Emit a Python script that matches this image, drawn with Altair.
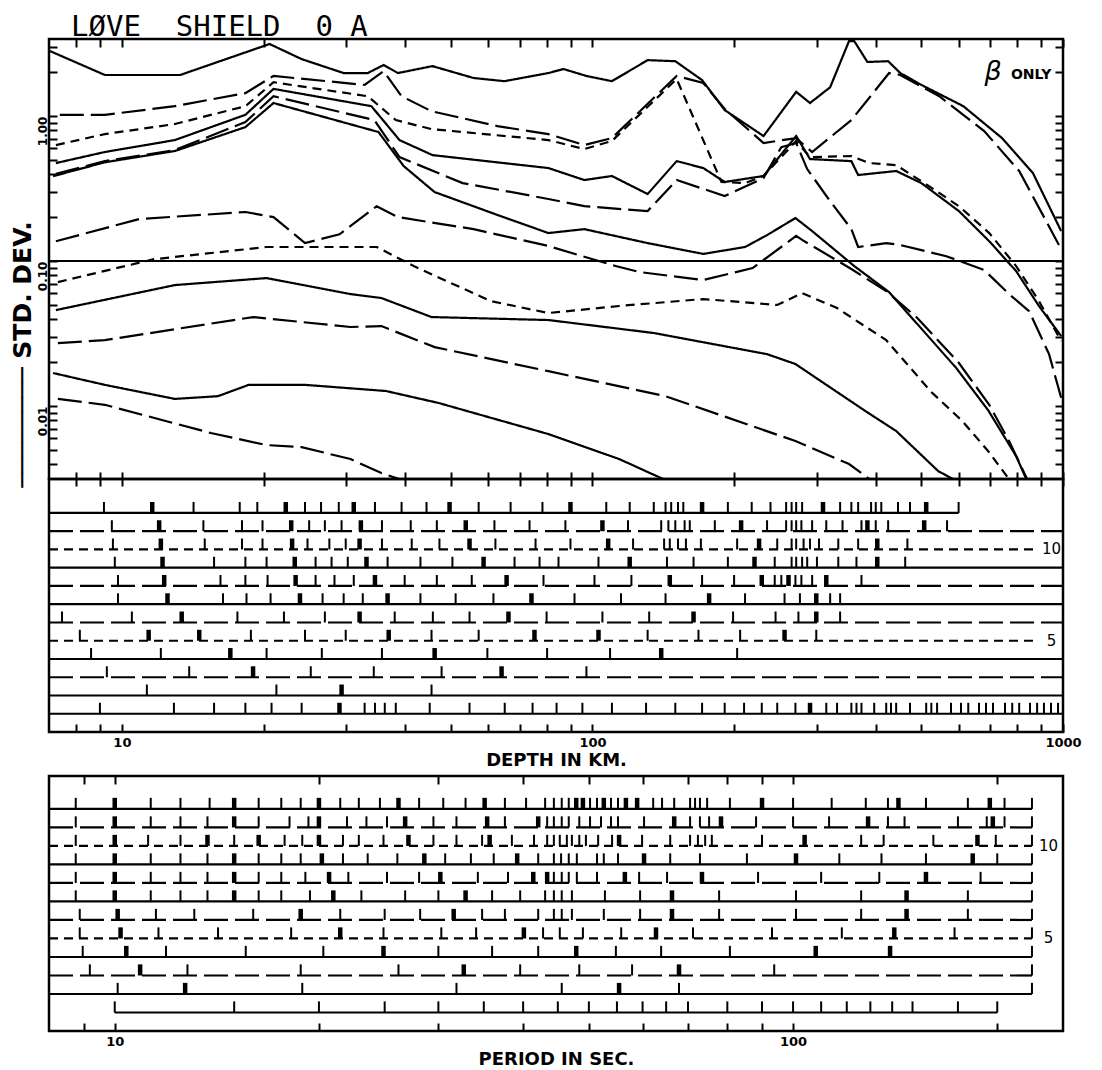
import altair as alt
import pandas as pd

# ---------------------------------------------------------------- data
# Top panel: standard deviation versus depth (km), one curve per model set
A_depth = [7.03, 9.2, 13.3, 20.6, 24.1, 29.6, 33.3, 36.0, 38.6, 45.7, 55.9, 65.0, 80.6, 86.8, 97.1, 110, 131, 150, 171, 191, 231, 271, 290, 320, 351, 360, 384, 425, 451, 500, 614, 742, 863, 991]
A_sd = [2.81, 1.92, 1.92, 3.14, 2.47, 1.98, 1.98, 2.25, 1.98, 2.21, 1.83, 1.74, 1.98, 2.11, 1.89, 1.74, 2.43, 2.39, 1.77, 1.10, 0.728, 1.47, 1.23, 1.58, 3.29, 3.29, 2.36, 2.39, 1.98, 1.64, 1.17, 0.705, 0.405, 0.161]

B_depth = [7.38, 9.2, 12.96, 18.3, 21.0, 32.8, 36.0, 39.3, 45.5, 62.8, 80.6, 96.1, 110, 151, 172, 191, 231, 271, 293, 355, 427, 451, 546, 680, 807, 991]
B_sd = [1.02, 1.02, 1.17, 1.44, 1.89, 1.64, 2.04, 1.37, 1.08, 0.853, 0.751, 0.631, 0.705, 1.89, 1.69, 1.12, 0.652, 0.705, 0.565, 0.938, 1.98, 1.92, 1.37, 0.788, 0.418, 0.121]

C_depth = [7.24, 9.2, 12.96, 18.3, 21.0, 33.3, 38.2, 45.5, 80.6, 96.1, 110, 151, 188, 211, 231, 271, 290, 355, 387, 442, 519, 601, 697, 795, 889, 991]
C_sd = [0.631, 0.751, 0.881, 1.17, 1.71, 1.37, 0.938, 0.813, 0.683, 0.592, 0.673, 1.80, 0.351, 0.345, 0.386, 0.673, 0.521, 0.530, 0.474, 0.459, 0.329, 0.239, 0.156, 0.0924, 0.0530, 0.0281]

D_depth = [7.24, 9.2, 12.96, 18.3, 21.0, 33.9, 38.9, 45.7, 80.6, 96.1, 110, 131, 151, 172, 191, 231, 271, 290, 355, 367, 442, 500, 601, 697, 795, 889, 991]
D_sd = [0.474, 0.565, 0.683, 1.02, 1.54, 1.17, 0.683, 0.538, 0.438, 0.362, 0.386, 0.290, 0.489, 0.438, 0.351, 0.386, 0.728, 0.505, 0.489, 0.392, 0.418, 0.345, 0.221, 0.137, 0.0853, 0.0490, 0.0304]

E2_depth = [7.24, 9.2, 12.96, 18.3, 21.0, 34.4, 38.9, 53.0, 80.6, 96.1, 131, 151, 191, 231, 252, 271, 286, 320, 355, 367, 421, 451, 565, 680, 768, 847, 934, 991]
E2_sd = [0.40, 0.489, 0.583, 0.909, 1.37, 0.938, 0.521, 0.345, 0.268, 0.239, 0.221, 0.362, 0.281, 0.374, 0.611, 0.652, 0.431, 0.259, 0.166, 0.125, 0.133, 0.129, 0.108, 0.0867, 0.0592, 0.0452, 0.0228, 0.0114]

E1_depth = [7.14, 9.2, 12.96, 18.3, 21.0, 35.1, 39.7, 46.2, 62.8, 80.6, 96.1, 131, 172, 211, 235, 270, 293, 360, 427, 593, 693, 795, 867]
E1_sd = [0.385, 0.48, 0.574, 0.839, 1.23, 0.776, 0.452, 0.299, 0.208, 0.156, 0.166, 0.133, 0.112, 0.125, 0.151, 0.198, 0.161, 0.0924, 0.0611, 0.0183, 0.00938, 0.00452, 0.00239]

F_depth = [7.24, 10.9, 18.3, 21.0, 24.5, 29.0, 34.8, 38.6, 55.9, 80.6, 112, 126, 172, 219, 271, 279, 355, 421, 488, 601, 697, 768, 847, 889]
F_sd = [0.137, 0.195, 0.218, 0.201, 0.133, 0.153, 0.239, 0.201, 0.166, 0.127, 0.0924, 0.0840, 0.0740, 0.0895, 0.149, 0.140, 0.0881, 0.0621, 0.0411, 0.0198, 0.0102, 0.00574, 0.00294, 0.00221]

G_depth = [7.31, 11.7, 20.3, 34.8, 41.7, 60.7, 80.6, 114, 172, 247, 279, 331, 421, 525, 611, 693, 779]
G_sd = [0.0716, 0.103, 0.125, 0.125, 0.0924, 0.0530, 0.0438, 0.0490, 0.0547, 0.0498, 0.0601, 0.0474, 0.0285, 0.0125, 0.00788, 0.00490, 0.00294]

H_depth = [7.24, 12.96, 20.3, 30.6, 35.6, 45.5, 80.6, 135, 235, 270, 299, 380, 442, 543, 611]
H_sd = [0.0459, 0.0683, 0.0763, 0.0592, 0.0556, 0.0411, 0.0392, 0.0319, 0.0228, 0.0195, 0.0156, 0.00925, 0.00673, 0.00356, 0.0029]

I_depth = [7.31, 9.2, 19.0, 30.6, 35.6, 46.2, 80.6, 143, 270, 351, 401]
I_sd = [0.0272, 0.0285, 0.0411, 0.0351, 0.0356, 0.0255, 0.0174, 0.0117, 0.00574, 0.00398, 0.0029]

J_depth = [7.14, 9.2, 12.96, 16.0, 18.6, 24.5, 36.4, 47.1, 80.6, 114, 161]
J_sd = [0.0169, 0.0140, 0.0112, 0.0117, 0.0140, 0.0140, 0.0127, 0.0105, 0.00641, 0.00431, 0.00259]

K_depth = [7.31, 9.2, 15.45, 20.3, 24.1, 30.6, 35.6, 47.1]
K_sd = [0.0112, 0.0102, 0.00652, 0.00538, 0.00521, 0.00431, 0.00345, 0.00255]

CURVES = [
    ("A", A_depth, A_sd, "solid"), ("B", B_depth, B_sd, "long"), ("C", C_depth, C_sd, "short"),
    ("D", D_depth, D_sd, "solid"), ("E2", E2_depth, E2_sd, "long"), ("E1", E1_depth, E1_sd, "solid"),
    ("F", F_depth, F_sd, "long"), ("G", G_depth, G_sd, "short"), ("H", H_depth, H_sd, "solid"),
    ("I", I_depth, I_sd, "long"), ("J", J_depth, J_sd, "solid"), ("K", K_depth, K_sd, "long"),
]

REF_SD = 0.1

# axis tick values
depth_ticks = [8, 9, 10, 20, 30, 40, 50, 60, 70, 80, 90, 100, 200, 300, 400, 500, 600, 700, 800, 900, 1000]
depth_labels = [10, 100, 1000]
period_ticks = [9, 10, 20, 30, 40, 50, 60, 70, 80, 90, 100, 200]
period_labels = [10, 100]
sd_ticks = [0.004, 0.005, 0.006, 0.007, 0.008, 0.009,
            0.01, 0.02, 0.03, 0.04, 0.05, 0.06, 0.07, 0.08, 0.09,
            0.1, 0.2, 0.3, 0.4, 0.5, 0.6, 0.7, 0.8, 0.9, 1, 2, 3]

# Middle panel: tick positions (depth, km) on each of 12 rows
rows_order = [12, 11, 10, 9, 8, 7, 6, 5, 4, 3, 2, 1]
mid_style = ["solid", "long", "short", "solid", "long", "solid", "long", "short", "solid", "long", "solid", "solid"]
mid_start = [7] * 12
mid_end = [600, 1000, 880, 1000, 1000, 1000, 1000, 880, 1000, 1000, 1000, 1000]

mid_ticks = {
    12: [9.16, 11.6, 14.2, 17.8, 19.4, 22.3, 24.5, 26.5, 28.9, 31.1, 34.5, 39.3, 44.4, 49.7, 57.3, 67.0, 78.3, 89.8, 107, 120, 135, 143, 147, 152, 156, 171, 194, 218, 239, 258, 265, 271, 279, 309, 336, 355, 367, 391, 400, 411, 446, 473, 512, 600],
    11: [9.52, 12.0, 14.9, 18.0, 19.9, 22.9, 25.0, 27.0, 29.3, 32.2, 35.7, 41.1, 46.7, 53.8, 61.9, 73.5, 87.6, 105, 119, 140, 145, 150, 157, 161, 182, 207, 235, 258, 265, 271, 278, 293, 314, 340, 373, 384, 400, 425, 507, 567],
    10: [9.57, 12.1, 15.0, 18.0, 19.9, 23.0, 24.8, 27.6, 29.9, 32.0, 35.7, 41.3, 47.3, 54.8, 62.2, 75.7, 89.8, 108, 122, 142, 146, 152, 158, 170, 203, 226, 247, 265, 271, 281, 290, 303, 333, 367, 403, 467],
    9: [9.66, 12.2, 15.7, 18.3, 20.3, 23.3, 25.8, 27.9, 30.2, 33.1, 36.7, 43.1, 50.4, 58.7, 68.3, 77.2, 84.7, 103, 120, 144, 164, 194, 221, 244, 265, 271, 279, 286, 300, 333, 364, 403, 462],
    8: [9.81, 12.3, 16.2, 18.3, 20.4, 23.4, 25.8, 28.3, 31.1, 34.5, 39.9, 46.7, 55.4, 65.7, 78.7, 101, 121, 146, 171, 200, 229, 244, 252, 261, 270, 278, 293, 314, 373],
    7: [9.81, 12.5, 16.4, 18.4, 20.7, 23.9, 26.7, 29.6, 32.5, 36.7, 43.1, 51.2, 61.6, 74.2, 91.6, 115, 143, 177, 211, 256, 276, 299, 320, 336],
    6: [7.46, 10.5, 13.4, 17.6, 22.1, 27.0, 32.0, 38.0, 45.8, 54.8, 66.3, 79.9, 105, 132, 164, 199, 245, 274, 299, 336],
    5: [8.14, 11.4, 14.6, 18.8, 24.5, 29.9, 36.9, 45.5, 57.3, 75.3, 103, 131, 168, 206, 256, 299],
    4: [8.6, 12.1, 17.0, 20.3, 26.6, 35.7, 46.2, 59.8, 80.1, 109, 140, 203],
    3: [9.29, 13.9, 19.0, 25.2, 34.3, 47.8, 64.1, 97.1],
    2: [11.3, 21.3, 29.3, 45.5],
    1: [8.98, 12.9, 15.7, 18.3, 20.8, 24.1, 29.0, 32.8, 34.5, 36.2, 38.2, 45.1, 54.8, 65.1, 74.6, 83.9, 95.2, 110, 130, 150, 171, 191, 210, 229, 247, 270, 290, 314, 331, 355, 364, 373, 397, 421, 431, 442, 473, 512, 525, 540, 578, 607, 629, 663, 686, 710, 753, 780, 807, 851, 881, 911, 943, 976],
}
mid_bold = {
    12: [11.6, 22.3, 31.1, 49.7, 89.8, 171, 309, 512],
    11: [12.0, 22.9, 32.2, 53.8, 105, 207, 384, 507],
    10: [12.1, 23.0, 32.0, 54.8, 108, 226, 403],
    9: [12.2, 23.3, 33.1, 58.7, 120, 221, 403],
    8: [12.3, 23.4, 34.5, 65.7, 146, 229, 261, 314],
    7: [12.5, 23.9, 36.7, 74.2, 177, 299],
    6: [13.4, 32.0, 66.3, 164, 299],
    5: [11.4, 14.6, 36.9, 75.3, 103, 256],
    4: [17.0, 46.2, 140],
    3: [19.0, 64.1],
    2: [29.3],
    1: [29.0, 290],
}

# Bottom panel: tick positions (period, s) on each of 12 rows
bot_style = ["solid", "long", "short", "solid", "long", "solid", "long", "short", "solid", "long", "solid", "solid"]
bot_start = [8] * 11 + [10]
bot_end = [225] * 11 + [200]

bot_ticks = {
    12: [8.76, 10, 11.3, 12.5, 13.8, 15.0, 16.3, 17.6, 18.8, 20, 21.5, 22.9, 24.6, 26.2, 28.1, 30.5, 32.9, 35.1, 37.6, 40.4, 43.1, 44.4, 45.6, 46.7, 47.9, 49.0, 50.2, 51.4, 52.6, 53.9, 55.2, 56.7, 58.9, 62.2, 64.1, 66.8, 70.5, 71.7, 72.9, 74.7, 80.7, 90.0, 100, 114, 128, 138, 143, 157, 181, 195, 205, 225],
    11: [8.76, 10, 11.3, 12.5, 13.7, 15.0, 16.3, 18.1, 19.3, 20, 22.0, 23.5, 25.2, 26.8, 29.5, 31.9, 35.4, 37.6, 42.1, 43.4, 44.4, 45.6, 46.7, 48.4, 50.2, 52.1, 53.9, 55.2, 60.3, 66.8, 70.5, 72.9, 75.2, 78.3, 88.2, 100, 113, 129, 138, 146, 175, 193, 197, 205, 225],
    10: [8.76, 10, 11.2, 12.5, 13.7, 15.0, 16.3, 17.8, 18.9, 20, 21.7, 22.9, 24.9, 27.1, 29.5, 31.9, 34.8, 35.7, 38.5, 41.5, 43.4, 44.4, 45.3, 46.4, 47.2, 48.4, 49.5, 51.6, 54.1, 55.4, 59.9, 65.9, 70.5, 72.4, 74.2, 75.9, 90.0, 104, 126, 136, 161, 187, 199, 225],
    9: [8.76, 10, 11.3, 12.5, 13.7, 15.0, 16.3, 17.6, 18.8, 20.2, 21.7, 23.6, 26.1, 28.6, 30.7, 33.5, 36.2, 39.2, 42.1, 44.4, 45.5, 46.7, 48.0, 51.4, 52.6, 55.2, 60.3, 65.9, 72.9, 85.5, 101, 117, 135, 157, 184, 200, 225],
    8: [8.76, 10, 11.3, 12.5, 13.7, 15.0, 16.3, 17.6, 19.1, 20.7, 22.1, 25.2, 28.1, 30.2, 34.3, 38.0, 41.4, 43.4, 44.4, 45.6, 46.7, 48.0, 51.4, 56.5, 59.3, 65.2, 73.4, 88.8, 110, 134, 157, 189, 225],
    7: [8.76, 10, 11.3, 12.5, 13.7, 15.0, 16.3, 17.6, 19.4, 21.0, 23.1, 26.8, 30.0, 32.9, 36.0, 39.6, 43.1, 44.4, 45.6, 47.2, 52.8, 59.5, 66.3, 77.8, 101, 126, 147, 181, 225],
    6: [8.88, 10.1, 11.5, 13.1, 16.0, 18.8, 21.5, 25.0, 28.2, 31.6, 34.8, 37.6, 42.1, 44.4, 45.6, 47.2, 52.6, 59.5, 66.3, 77.8, 101, 126, 147, 181, 225],
    5: [8.88, 10.2, 11.6, 14.2, 18.2, 21.5, 24.9, 30.3, 34.1, 40.1, 42.8, 45.3, 49.0, 55.8, 62.8, 71.2, 93.1, 118, 141, 173, 225],
    4: [8.97, 10.4, 11.9, 15.6, 20.3, 24.9, 30.0, 36.0, 42.1, 47.9, 54.8, 63.9, 80.7, 108, 139, 225],
    3: [9.19, 10.9, 12.8, 18.8, 26.2, 32.7, 39.6, 48.4, 57.9, 67.9, 93.8, 225],
    2: [10.1, 12.7, 18.9, 31.9, 45.6, 55.4, 67.9, 225],
    1: [10, 15, 20, 25, 30, 35, 40, 45, 50, 55, 60, 65, 70, 80, 90, 100, 110, 120, 130, 140, 150, 175, 200],
}
bot_bold = {
    12: [10, 15.0, 20, 26.2, 35.1, 47.9, 49.0, 52.6, 56.7, 58.9, 90.0, 143, 195],
    11: [10, 15.0, 20, 26.8, 35.4, 42.1, 66.8, 78.3, 129, 197],
    10: [10, 13.7, 16.3, 20, 27.1, 35.7, 55.4, 104, 187],
    9: [10, 15.0, 20.2, 28.6, 39.2, 60.3, 101, 184],
    8: [10, 15.0, 20.7, 30.2, 41.4, 43.4, 56.5, 73.4, 157],
    7: [10, 15.0, 21.0, 32.9, 66.3, 147],
    6: [10.1, 18.8, 31.6, 66.3, 147],
    5: [10.2, 21.5, 40.1, 62.8, 141],
    4: [10.4, 24.9, 47.9, 108, 139],
    3: [10.9, 32.7, 67.9],
    2: [12.7, 55.4],
    1: [],
}

row_labels = [10, 5]

# ---------------------------------------------------------------- frames
curve_rows = []
for name, ds, ss, style in CURVES:
    for i, (d, s) in enumerate(zip(ds, ss)):
        curve_rows.append(dict(curve=name, depth=d, sd=s, style=style, seq=i))
curves_df = pd.DataFrame(curve_rows)


def rows_frame(starts, ends, styles):
    return pd.DataFrame({"row": rows_order, "start": starts, "end": ends, "style": styles})


def ticks_frame(ticks, bold):
    out = []
    for r in rows_order:
        for v in ticks[r]:
            out.append(dict(row=r, pos=v, weight="bold" if v in bold[r] else "thin"))
    return pd.DataFrame(out)


mid_rows_df = rows_frame(mid_start, mid_end, mid_style)
mid_ticks_df = ticks_frame(mid_ticks, mid_bold)
bot_rows_df = rows_frame(bot_start, bot_end, bot_style)
bot_ticks_df = ticks_frame(bot_ticks, bot_bold)

# ---------------------------------------------------------------- styling
W = 1014
H_TOP, H_MID, H_GAP, H_BOT = 440, 253, 44, 255
FONT = "DejaVu Sans"
NB = "\u00a0"

depth_scale = alt.Scale(type="log", domain=[7, 1000], nice=False)
period_scale = alt.Scale(type="log", domain=[8, 250], nice=False)
sd_scale = alt.Scale(type="log", domain=[0.00314, 3.4], nice=False, clamp=False)
mid_row_scale = alt.Scale(domain=[0, 13.86], nice=False, zero=False)
bot_row_scale = alt.Scale(domain=[0, 13.78], nice=False, zero=False)

curve_dash = alt.Scale(domain=["solid", "long", "short"], range=[[1, 0], [24, 7], [9, 6]])
row_dash = alt.Scale(domain=["solid", "long", "short"], range=[[1, 0], [42, 9], [9, 6]])
tick_w = alt.Scale(domain=["thin", "bold"], range=[2, 4.5])

TICK = dict(tickColor="black", tickWidth=2, domain=False, grid=False)


def lab_expr(vals):
    return "indexof([" + ",".join(str(v) for v in vals) + "], datum.value) >= 0 ? '' + datum.value : ''"


SD_EXPR = ("abs(datum.value-1)<1e-6 ? '1.00' : abs(datum.value-0.1)<1e-7 ? '0.10' : "
           "abs(datum.value-0.01)<1e-8 ? '0.01' : ''")

# ---------------------------------------------------------------- top panel
curves = alt.Chart(curves_df).mark_line(color="black", strokeWidth=2.2, clip=True).encode(
    x=alt.X("depth:Q", scale=depth_scale,
            axis=alt.Axis(orient="bottom", values=depth_ticks, labels=False, tickSize=14,
                          offset=-7, title=None, **TICK)),
    y=alt.Y("sd:Q", scale=sd_scale,
            axis=alt.Axis(orient="left", values=sd_ticks, labelExpr=SD_EXPR, labelAngle=270,
                          labelAlign="right", labelBaseline="middle", labelFont=FONT,
                          labelFontWeight="bold", labelFontSize=12, labelColor="black",
                          labelPadding=7, labelOverlap=False, tickSize=8, offset=-8,
                          title="─" * 8 + NB + "STD." + NB + "DEV.", titleFont=FONT,
                          titleFontWeight="bold", titleFontSize=25, titleColor="black",
                          titlePadding=1, titleY=315, **TICK)),
    detail="curve:N",
    order="seq:Q",
    strokeDash=alt.StrokeDash("style:N", scale=curve_dash, legend=None),
)

beta = alt.Chart(pd.DataFrame({"depth": [710], "sd": [2.0], "txt": ["β"]})).mark_text(
    font=FONT, fontSize=27, fontStyle="italic", align="center", baseline="middle", color="black"
).encode(
    x=alt.X("depth:Q", scale=depth_scale,
            axis=alt.Axis(orient="top", values=depth_ticks, labels=False, tickSize=8, offset=-8,
                          title=None, **TICK)),
    y=alt.Y("sd:Q", scale=sd_scale,
            axis=alt.Axis(orient="right", values=sd_ticks, labels=False, tickSize=8, offset=-8,
                          title=None, **TICK)),
    text="txt:N",
)

only = alt.Chart(pd.DataFrame({"depth": [775], "sd": [1.92], "txt": ["ONLY"]})).mark_text(
    font=FONT, fontSize=14, fontWeight="bold", align="left", baseline="middle", color="black"
).encode(
    x=alt.X("depth:Q", scale=depth_scale, axis=None),
    y=alt.Y("sd:Q", scale=sd_scale, axis=None),
    text="txt:N",
)

ref_line = alt.Chart(pd.DataFrame({"sd": [REF_SD]})).mark_rule(color="black", strokeWidth=2).encode(
    y=alt.Y("sd:Q", scale=sd_scale, axis=None)
)

TITLE = "LØVE" + NB + NB + "SHIELD" + NB + NB + "0" + NB + "A"
top = alt.layer(curves, beta, only, ref_line).resolve_axis(
    x="independent", y="independent"
).properties(
    width=W, height=H_TOP,
    title=alt.TitleParams(TITLE, anchor="start", frame="group", dx=22, offset=-4,
                          font="DejaVu Sans Mono", fontSize=29,
                          fontWeight="normal", color="black"),
)


# ---------------------------------------------------------------- row panels
def row_panel(rows_df, ticks_df, xscale, rscale, xticks, xlabels, xtitle, label_pos, height, with_top):
    lines = alt.Chart(rows_df).mark_rule(color="black", strokeWidth=2.2).encode(
        x=alt.X("start:Q", scale=xscale,
                axis=alt.Axis(orient="bottom", values=xticks, labelExpr=lab_expr(xlabels),
                              labelFont=FONT, labelFontWeight="bold", labelFontSize=13,
                              labelColor="black", labelPadding=4, labelFlush=False,
                              labelOverlap=False, tickSize=8, offset=-8, title=xtitle,
                              titleFont=FONT, titleFontWeight="bold", titleFontSize=18,
                              titleColor="black", titlePadding=2, **TICK)),
        x2="end:Q",
        y=alt.Y("row:Q", scale=rscale, axis=None),
        strokeDash=alt.StrokeDash("style:N", scale=row_dash, legend=None),
    )
    ticks = alt.Chart(ticks_df).transform_calculate(top="datum.row + 0.6").mark_rule(
        color="black"
    ).encode(
        x=alt.X("pos:Q", scale=xscale, axis=None),
        y=alt.Y("row:Q", scale=rscale, axis=None),
        y2="top:Q",
        strokeWidth=alt.StrokeWidth("weight:N", scale=tick_w, legend=None),
    )
    labels = alt.Chart(pd.DataFrame({"row": row_labels, "pos": [label_pos] * 2,
                                     "txt": [str(v) for v in row_labels]})).mark_text(
        font=FONT, fontSize=15, align="center", baseline="middle", color="black"
    ).encode(
        x=alt.X("pos:Q", scale=xscale, axis=None),
        y=alt.Y("row:Q", scale=rscale, axis=None),
        text="txt:N",
    )
    layers = [lines, ticks, labels]
    if with_top:
        top_axis = alt.Chart(pd.DataFrame({"pos": [xticks[0]]})).mark_point(opacity=0).encode(
            x=alt.X("pos:Q", scale=xscale,
                    axis=alt.Axis(orient="top", values=xticks, labels=False, tickSize=8,
                                  offset=-8, title=None, **TICK)),
        )
        layers.append(top_axis)
    return alt.layer(*layers).resolve_axis(x="independent").properties(width=W, height=height)


mid = row_panel(mid_rows_df, mid_ticks_df, depth_scale, mid_row_scale, depth_ticks, depth_labels,
                "DEPTH IN KM.", 945, H_MID, False)
bot = row_panel(bot_rows_df, bot_ticks_df, period_scale, bot_row_scale, period_ticks, period_labels,
                "PERIOD IN SEC.", 238, H_BOT, True)

gap = alt.Chart(pd.DataFrame({"v": [0]})).mark_point(opacity=0).encode(
    x=alt.X("v:Q", axis=None), y=alt.Y("v:Q", axis=None)
).properties(width=W, height=H_GAP,
             view=alt.ViewBackground(fill="transparent", fillOpacity=0, strokeOpacity=0, strokeWidth=0))

chart = alt.vconcat(top, mid, gap, bot, spacing=0, bounds="flush").properties(
    padding={"left": 0, "top": 3, "right": 5, "bottom": 0},
    background="white",
).configure_view(stroke="black", strokeWidth=2.5)

chart.save("out.html", embed_options={"renderer": "svg", "actions": False})
